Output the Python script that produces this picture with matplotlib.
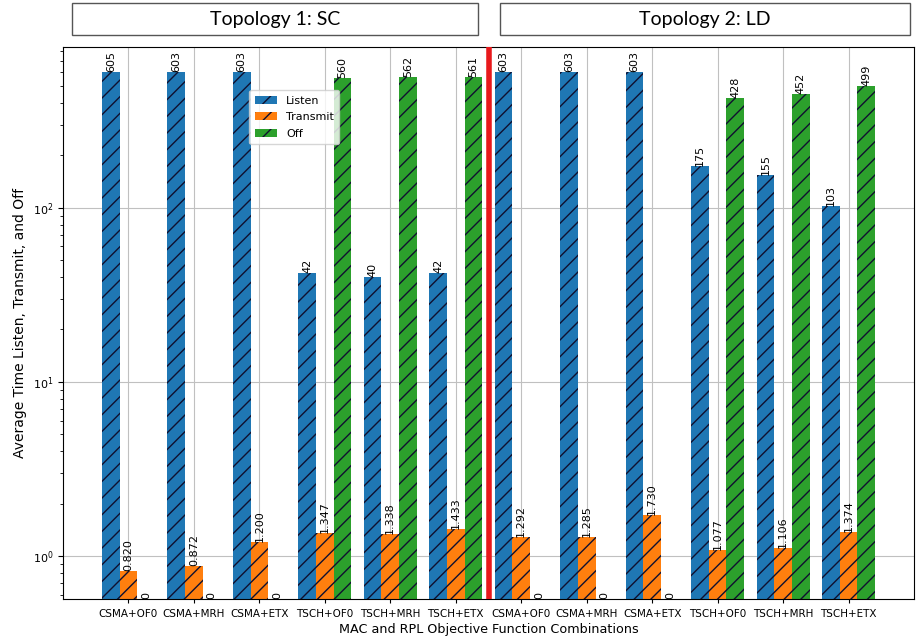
import numpy as np
import matplotlib
matplotlib.use('Agg')
import matplotlib.pyplot as plt
from matplotlib.patches import Rectangle

plt.rcParams['font.family'] = ['DejaVu Sans']

combos = ['CSMA+OF0', 'CSMA+MRH', 'CSMA+ETX', 'TSCH+OF0', 'TSCH+MRH', 'TSCH+ETX',
          'CSMA+OF0', 'CSMA+MRH', 'CSMA+ETX', 'TSCH+OF0', 'TSCH+MRH', 'TSCH+ETX']
listen = [605, 603, 603, 42, 40, 42, 603, 603, 603, 175, 155, 103]
transmit = [0.820, 0.872, 1.200, 1.347, 1.338, 1.433,
            1.292, 1.285, 1.730, 1.077, 1.106, 1.374]
off = [0, 0, 0, 560, 562, 561, 0, 0, 0, 428, 452, 499]
topologies = ['Topology 1: SC', 'Topology 2: LD']

fig = plt.figure(figsize=(9.16, 6.36), dpi=100)
ax = fig.add_axes([0.0688, 0.0582, 0.929, 0.868])

x = np.arange(len(combos))
w = 0.27
ymin = 0.566

series = [(listen, -w, '#1f77b4', 'Listen', '{:.0f}'),
          (transmit, 0, '#ff7f0e', 'Transmit', '{:.3f}'),
          (off, w, '#2ca02c', 'Off', '{:.0f}')]

for vals, dx, col, lab, fmt in series:
    ax.bar(x + dx, vals, w, color=col, edgecolor='#101030', linewidth=0,
           hatch='//', label=lab, zorder=2)
    for xi, v in zip(x, vals):
        y = v if v > 0 else ymin
        ax.text(xi + dx, y, fmt.format(v), rotation=90, ha='center',
                va='bottom', fontsize=8, zorder=3)

ax.set_yscale('log')
ax.set_ylim(ymin, 840)
ax.set_xlim(-1, 12)
ax.set_xticks(x)
ax.set_xticklabels(combos, fontsize=7.5)
ax.tick_params(axis='y', labelsize=8)
ax.tick_params(axis='x', length=3, pad=4)
ax.grid(True, which='major', color='#c0c0c0', linewidth=0.8, zorder=0)
ax.set_axisbelow(True)

# divider between the two topologies
ax.axvline(5.5, color='#e8191c', linewidth=4, zorder=4)

ax.set_xlabel('MAC and RPL Objective Function Combinations', fontsize=9.2, labelpad=3)
ax.set_ylabel('Average Time Listen, Transmit, and Off', fontsize=10, labelpad=4)
ax.legend(loc='upper left', bbox_to_anchor=(0.219, 0.922), borderaxespad=0,
          fontsize=8, handlelength=2, borderpad=0.5, labelspacing=0.6)

# topology header boxes
for (x0, x1), title in zip([(0.0786, 0.5218), (0.5459, 0.9934)], topologies):
    fig.patches.append(Rectangle((x0, 0.945), x1 - x0, 0.05,
                                 transform=fig.transFigure, fill=False,
                                 edgecolor='#555555', linewidth=1))
    fig.text((x0 + x1) / 2, 0.970, title, ha='center', va='center',
             fontsize=14, family='Lato')

fig.savefig('out.png', dpi=100)
